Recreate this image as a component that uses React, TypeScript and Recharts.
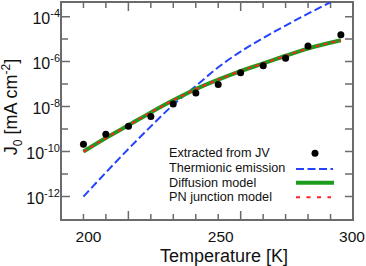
import React from 'react';
import { ComposedChart, Line, Scatter, XAxis, YAxis, Legend, ReferenceArea, ReferenceLine } from 'recharts';

// temperatures [K] and J0 [mA cm^-2]
const extractedT = [200, 208.3, 216.7, 225, 233.3, 241.7, 250, 258.3, 266.7, 275, 283.3, 295.5];
const extractedJ = [2.14e-10, 5.9e-10, 1.35e-9, 3.6e-9, 1.32e-8, 4.0e-8, 9.5e-8, 3.2e-7, 6.5e-7, 1.41e-6, 5.0e-6, 1.55e-5];

const diffusionT = [200, 208.3, 216.7, 225, 233.3, 241.7, 250, 258.3, 266.7, 275, 283.3, 295.5];
const diffusionJ = [1.0e-10, 4.0e-10, 1.48e-9, 5.5e-9, 1.9e-8, 6.0e-8, 1.58e-7, 3.8e-7, 8.3e-7, 1.82e-6, 3.8e-6, 8.9e-6];

// PN junction model sits right on top of the diffusion curve
const pnT = diffusionT;
const pnJ = diffusionJ;

const thermionicT = [200, 208.3, 216.7, 225, 233.3, 241.7, 250, 258.3, 266.7, 275, 283.3, 291.7];
const thermionicJ = [1.0e-12, 1.17e-11, 1.32e-10, 1.32e-9, 1.2e-8, 8.3e-8, 5.6e-7, 2.8e-6, 1.12e-5, 4.0e-5, 1.35e-4, 4.4e-4];

const xTicks = [200, 208.33, 216.67, 225, 233.33, 241.67, 250, 258.33, 266.67, 275, 283.33, 291.67, 300];
const xLabels = [200, 250, 300];
const xLabelShift = [5, 2.5, -1];
const xLongTicks = [216.67, 258.33];
const yTicks = [1e-12, 1e-11, 1e-10, 1e-9, 1e-8, 1e-7, 1e-6, 1e-5, 1e-4];
const legendNames = ['Extracted from JV', 'Thermionic emission', 'Diffusion model', 'PN junction model'];

const toRows = (t: number[], j: number[]) => t.map((T, i) => ({ T, J: j[i] }));
const extractedData = toRows(extractedT, extractedJ);
const diffusionData = toRows(diffusionT, diffusionJ);
const pnData = toRows(pnT, pnJ);
const thermionicData = toRows(thermionicT, thermionicJ);

const FRAME = '#6b6b6b';
const BLUE = '#2443ff';
const GREEN = '#1c9c1c';
const RED = '#ff2222';
const FONT = '"Liberation Sans", Arial, sans-serif';
const X_DOMAIN = [191.67, 300];
const Y_DOMAIN = [9.1e-14, 4.47e-4];

const expOf = (v: number) => Math.round(Math.log10(v));

// tick labels only; the tick marks are drawn by the reference lines below
function BottomTick({ x, y, payload }: any) {
  const li = xLabels.indexOf(payload.value);
  if (li < 0) return <g />;
  return (
    <text x={x + xLabelShift[li]} y={y + 22} textAnchor="middle" fontSize={15.5} fill="#111">{payload.value}</text>
  );
}

function LeftTick({ x, y, payload }: any) {
  const e = expOf(payload.value);
  if (e % 2 !== 0) return <g />;
  return (
    <text x={x - 1} y={y + 7.5} textAnchor="end" fontSize={16} fill="#111">
      <tspan>10</tspan>
      <tspan fontSize={11} dy={-7.5}>{'-' + Math.abs(e)}</tspan>
    </text>
  );
}

// inward ticks on bottom and top edges
function XTickMark(props: any) {
  const { x1, x2, y1, y2, value } = props;
  const len = xLongTicks.includes(value) ? 9 : 6;
  const yb = Math.max(y1, y2);
  const yt = Math.min(y1, y2);
  const x = x1 ?? x2;
  return (
    <path d={`M${x},${yb}V${yb - len}M${x},${yt}V${yt + len}`} stroke={FRAME} strokeWidth={1.5} fill="none" />
  );
}

// inward ticks on left and right edges
function YTickMark(props: any) {
  const { x1, x2, y1, y2, value } = props;
  const len = expOf(value) % 2 === 0 ? 9 : 7;
  const xl = Math.min(x1, x2);
  const xr = Math.max(x1, x2);
  const y = y1 ?? y2;
  return (
    <path d={`M${xl},${y}H${xl + len}M${xr},${y}H${xr - 8}`} stroke={FRAME} strokeWidth={1.5} fill="none" />
  );
}

function YTitle({ viewBox }: any) {
  const cx = (viewBox?.x ?? 0) + 16.5;
  const cy = (viewBox?.y ?? 2) + (viewBox?.height ?? 218) / 2 - 4;
  return (
    <text x={cx} y={cy} transform={`rotate(-90, ${cx}, ${cy})`} textAnchor="middle" fontSize={18} fill="#111">
      <tspan>J</tspan>
      <tspan fontSize={12} dy={5}>0</tspan>
      <tspan dy={-5}> [mA cm</tspan>
      <tspan fontSize={12} dy={-7}>-2</tspan>
      <tspan dy={7}>]</tspan>
    </text>
  );
}

function XTitle({ viewBox }: any) {
  const cx = (viewBox?.x ?? 61) + (viewBox?.width ?? 292) / 2 + 17;
  const by = (viewBox?.y ?? 220) + 41.5;
  return (
    <text x={cx} y={by} textAnchor="middle" fontSize={18} fill="#111">Temperature [K]</text>
  );
}

function LegendBox() {
  const rows = [14.3, 29, 43.7, 58.4];
  return (
    <svg width={190} height={64} style={{ display: 'block', fontFamily: FONT }}>
      {legendNames.map((n, i) => (
        <text key={n} x={4} y={rows[i]} fontSize={12.7} fill="#111">{n}</text>
      ))}
      <circle cx={150} cy={10.3} r={3.5} fill="#000" />
      <path d="M131,26H168" stroke={BLUE} strokeWidth={2} strokeDasharray="8 3.5" />
      <path d="M131,39.7H169" stroke={GREEN} strokeWidth={4} />
      <path d="M131,54.3H166" stroke={RED} strokeWidth={2} strokeDasharray="4 6.5" />
    </svg>
  );
}

export default function App() {
  return (
    <div style={{ position: 'absolute', left: 0, top: 0, width: 366, height: 266, fontFamily: FONT }}>
      <ComposedChart width={366} height={266} margin={{ top: 2, right: 13, bottom: 0, left: 0 }}>
        <XAxis
          dataKey="T"
          type="number"
          domain={X_DOMAIN}
          allowDataOverflow
          ticks={xTicks}
          interval={0}
          height={46}
          tickSize={0}
          tickMargin={0}
          tickLine={false}
          stroke={FRAME}
          axisLine={{ stroke: FRAME, strokeWidth: 2 }}
          tick={(p: any) => <BottomTick {...p} />}
          label={<XTitle />}
        />
        <YAxis
          dataKey="J"
          type="number"
          scale="log"
          domain={Y_DOMAIN}
          allowDataOverflow
          ticks={yTicks}
          interval={0}
          width={61}
          tickSize={0}
          tickMargin={0}
          tickLine={false}
          stroke={FRAME}
          axisLine={{ stroke: FRAME, strokeWidth: 2 }}
          tick={(p: any) => <LeftTick {...p} />}
          label={<YTitle />}
        />
        <ReferenceArea
          x1={X_DOMAIN[0]}
          x2={X_DOMAIN[1]}
          y1={Y_DOMAIN[0]}
          y2={Y_DOMAIN[1]}
          ifOverflow="visible"
          fill="none"
          fillOpacity={0}
          stroke={FRAME}
          strokeWidth={2}
          strokeOpacity={1}
        />
        {xTicks.filter((v) => v < X_DOMAIN[1]).map((v) => (
          <ReferenceLine
            key={'x' + v}
            x={v}
            stroke={FRAME}
            ifOverflow="visible"
            shape={(p: any) => <XTickMark {...p} value={v} />}
          />
        ))}
        {yTicks.map((v) => (
          <ReferenceLine
            key={'y' + v}
            y={v}
            stroke={FRAME}
            ifOverflow="visible"
            shape={(p: any) => <YTickMark {...p} value={v} />}
          />
        ))}
        <Legend
          layout="horizontal"
          verticalAlign="middle"
          align="center"
          wrapperStyle={{ left: 165, top: 143, width: 190, height: 64 }}
          content={() => <LegendBox />}
        />
        <Line
          data={thermionicData}
          dataKey="J"
          type="monotone"
          stroke={BLUE}
          strokeWidth={2}
          strokeDasharray="8 3.5"
          dot={false}
          activeDot={false}
          isAnimationActive={false}
        />
        <Line
          data={diffusionData}
          dataKey="J"
          type="monotone"
          stroke={GREEN}
          strokeWidth={4}
          dot={false}
          activeDot={false}
          isAnimationActive={false}
        />
        <Line
          data={pnData}
          dataKey="J"
          type="monotone"
          stroke={RED}
          strokeWidth={2}
          strokeDasharray="4 4"
          dot={false}
          activeDot={false}
          isAnimationActive={false}
        />
        <Scatter
          data={extractedData}
          dataKey="J"
          fill="#000"
          shape={(p: any) => <circle cx={p.cx} cy={p.cy} r={3.5} fill="#000" />}
          isAnimationActive={false}
        />
      </ComposedChart>
    </div>
  );
}
